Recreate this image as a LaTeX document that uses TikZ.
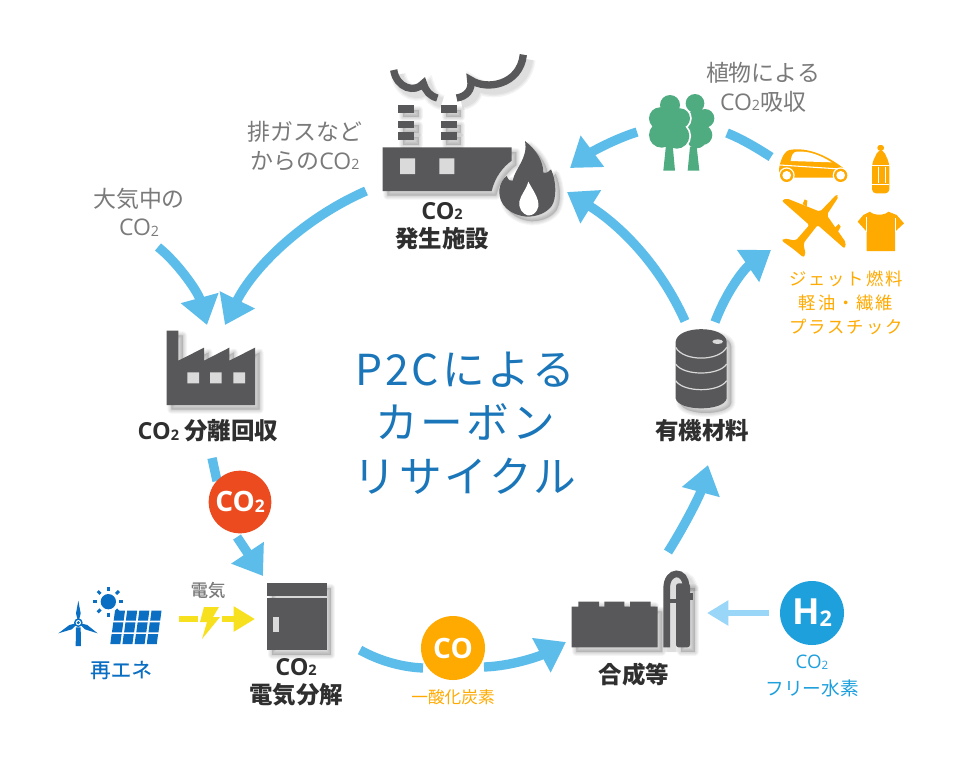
\documentclass[tikz,border=0pt]{standalone}
\usepackage{fontspec}
\usetikzlibrary{arrows.meta}
\setmainfont{Noto Sans CJK JP}
\newfontfamily\lat{Open Sans}
\definecolor{flow}{HTML}{5CBDEB}
\definecolor{lightflow}{HTML}{9AD6F7}
\definecolor{icongrey}{HTML}{58585A}
\definecolor{lblgrey}{HTML}{7A7A7A}
\definecolor{dark}{HTML}{2F2F2F}
\definecolor{orng}{HTML}{FFAA00}
\definecolor{blu}{HTML}{0A6FC2}
\definecolor{title}{HTML}{1A76B9}
\definecolor{treeg}{HTML}{4FAB80}
\definecolor{yel}{HTML}{F7E01E}
\definecolor{winl}{HTML}{DADADA}
\definecolor{redd}{HTML}{EC4B20}
\definecolor{hblue}{HTML}{1EA0DC}
\newcommand\cotwo{{\lat CO}\raisebox{-.02em}{\scalebox{.62}{\lat 2}}}
\newcommand\softsh[1]{\foreach \w in {6,4.5,3,1.5}{\path[fill=black,draw=black,fill opacity=.04,draw opacity=.04,line width=\w pt,line join=round,xshift=3.5pt,yshift=-3.5pt] #1;}}
\newcommand\softln[2]{\foreach \w in {6,4,2}{\path[draw=black,draw opacity=.045,line width=#1+\w pt,xshift=3.5pt,yshift=-3.5pt] #2;}}
\tikzset{
  x=.75pt,y=-.75pt,
  flowline/.style={draw=flow,line width=7pt},
  flowarrow/.style={flowline,-{Triangle[length=21pt,width=28pt]}},
  greylbl/.style={text=lblgrey,align=center,font=\fontsize{17.2}{21.5}\selectfont,inner sep=0pt},
  darklbl/.style={text=dark,align=center,font=\fontsize{17.6}{21}\selectfont\bfseries,inner sep=0pt},
  orglbl/.style={text=orng,align=center,font=\fontsize{13}{18}\selectfont\addfontfeature{LetterSpace=11},inner sep=0pt},
  disc/.style={circle,minimum size=47pt,inner sep=0pt,text=white},
  zoomA/.style={shift={(340,30)},x=.25pt,y=-.25pt},
  zoomB/.style={shift={(630,50)},x=.25pt,y=-.25pt},
  zoomC/.style={shift={(50,570)},x=.25pt,y=-.25pt},
  zoomD/.style={shift={(550,560)},x=.25pt,y=-.25pt},
  zoomE/.style={shift={(130,320)},x=.25pt,y=-.25pt},
  zoomF/.style={shift={(640,320)},x=.25pt,y=-.25pt},
}
\begin{document}
\begin{tikzpicture}
\useasboundingbox (0,0) rectangle (980,772);
\fill[white] (0,0) rectangle (980,772);

% ---------- coordinates of the connectors
\coordinate (airS) at (158,247);
\coordinate (airT) at (207,325);
\coordinate (exS) at (366,191);
\coordinate (exT) at (225,325);
\coordinate (sepS) at (212,458);
\coordinate (sepE) at (217,481);
\coordinate (elS) at (237,537);
\coordinate (elT) at (263,576);
\coordinate (coA) at (360,650);
\coordinate (coB) at (423,668);
\coordinate (coC) at (484,667);
\coordinate (coT) at (566,642);
\coordinate (synS) at (668,552);
\coordinate (synT) at (708,465);
\coordinate (orgS) at (685,321);
\coordinate (orgT) at (567,192);
\coordinate (prodS) at (715,322);
\coordinate (prodT) at (771,250);
\coordinate (fuelS) at (771,157);
\coordinate (fuelE) at (727,133);
\coordinate (treeS) at (637,132);
\coordinate (treeT) at (570,168);
\coordinate (hS) at (769,613);
\coordinate (hT) at (707,613);
\coordinate (yA) at (179,619);
\coordinate (yB) at (198,619);
\coordinate (yC) at (222,619);
\coordinate (yT) at (255,619);

% ---------- connectors
\draw[flowarrow] (airS) .. controls (178,263) and (198,292) .. (airT);
\draw[flowarrow] (exS) .. controls (300,220) and (252,270) .. (exT);
\draw[flowline] (sepS) -- (sepE);
\draw[flowarrow] (elS) -- (elT);
\draw[flowline] (coA) .. controls (378,660) and (400,667) .. (coB);
\draw[flowarrow] (coC) .. controls (512,666) and (540,656) .. (coT);
\draw[flowarrow] (synS) .. controls (685,525) and (700,495) .. (synT);
\draw[flowarrow] (orgS) .. controls (660,265) and (620,225) .. (orgT);
\draw[flowarrow] (prodS) .. controls (727,290) and (745,268) .. (prodT);
\draw[flowline] (fuelS) .. controls (757,148) and (742,139) .. (fuelE);
\draw[flowarrow] (treeS) .. controls (612,140) and (590,153) .. (treeT);
\draw[draw=lightflow,line width=5.2pt,-{Triangle[length=16pt,width=18pt]}] (hS) -- (hT);
\draw[draw=yel,line width=5.2pt] (yA) -- (yB);
\draw[draw=yel,line width=5.2pt,-{Triangle[length=16pt,width=18pt]}] (yC) -- (yT);
\fill[yel] (204,607) -- (219,607) -- (213,617) -- (220,617) -- (202,639) -- (207,622) -- (200,622) -- cycle;

% ---------- CO2 source plant
\begin{scope}[zoomA]
\def\plant{(128,352) -- (515,352) -- (515,392) .. controls (490,410) and (465,440) .. (455,483) -- (128,483) -- cycle}
\softsh{\plant}
\fill[icongrey] \plant;
\fill[winl] (180,385) rectangle (225,432) (298,385) rectangle (343,432);
\foreach \xa in {175,303}{
  \foreach \ya/\yb in {225/248,272/295,307/330}{
    \softsh{(\xa,\ya) rectangle (\xa+47,\yb)}
    \fill[icongrey] (\xa,\ya) rectangle (\xa+47,\yb);
  }
}
\def\smokeL{(161,120) .. controls (170,175) and (225,190) .. (250,160) .. controls (258,185) and (270,198) .. (292,204)}
\def\smokeR{(350,204) .. controls (378,200) and (398,180) .. (392,150) .. controls (440,182) and (540,165) .. (550,74)}
\softln{5.5pt}{\smokeL}
\softln{5.5pt}{\smokeR}
\draw[icongrey,line width=5.5pt] \smokeL;
\draw[icongrey,line width=5.5pt] \smokeR;
\def\flame{(560,560) .. controls (510,555) and (475,525) .. (478,480) .. controls (480,460) and (490,445) .. (500,438) .. controls (505,450) and (510,455) .. (518,452) .. controls (525,415) and (565,385) .. (555,333) .. controls (590,360) and (610,395) .. (610,428) .. controls (620,430) and (628,425) .. (633,418) .. controls (650,455) and (650,505) .. (635,528) .. controls (618,550) and (590,560) .. (560,560) -- cycle}
\softsh{\flame}
\fill[icongrey] \flame;
\fill[white] (565,455) .. controls (578,480) and (598,505) .. (595,530) .. controls (590,550) and (575,558) .. (563,556) .. controls (548,552) and (535,535) .. (538,515) .. controls (542,495) and (558,480) .. (565,455) -- cycle;
\end{scope}

% ---------- capture plant
\begin{scope}[zoomE]
\def\capt{(110,32) -- (145,32) -- (145,122) -- (222,83) -- (222,122) -- (298,83) -- (298,122) -- (375,83) -- (375,255) -- (110,255) -- cycle}
\softsh{\capt}
\fill[icongrey] \capt;
\fill[winl] (172,157) rectangle (207,190) (240,157) rectangle (275,190) (310,157) rectangle (345,190);
\end{scope}

% ---------- electrolyser
\begin{scope}[zoomC]
\softsh{(652,40) rectangle (830,240)}
\fill[icongrey] (652,40) rectangle (830,78);
\fill[icongrey] (652,85) rectangle (830,240);
\fill[winl] (670,140) rectangle (686,187);
% renewable energy
\fill[blu] (85,158) -- (78,130) -- (85,92) -- (92,130) -- cycle;
\fill[blu] (85,158) -- (58,165) -- (25,190) -- (65,178) -- cycle;
\fill[blu] (85,158) -- (112,165) -- (143,190) -- (105,178) -- cycle;
\fill[blu] (78,172) -- (92,172) -- (93,228) -- (77,228) -- cycle;
\fill[blu] (85,158) circle (13);
\fill[white] (85,158) circle (8);
\fill[blu] (85,158) circle (5);
\fill[blu] (175,95) circle (23);
\foreach \a in {0,45,...,315}{
  \draw[blu,line width=2.2pt] (175,95) ++(\a:33) -- ++(\a:12);
}
\foreach \i in {0,...,3}{
  \foreach \j in {0,...,2}{
    \pgfmathsetmacro\xa{195+\i*36.5-\j*5.1}
    \pgfmathsetmacro\ya{122+\j*35}
    \fill[blu] (\xa,\ya) -- (\xa+30,\ya) -- (\xa+26,\ya+30) -- (\xa-4,\ya+30) -- cycle;
  }
}
\end{scope}

% ---------- synthesis plant
\begin{scope}[zoomD]
\def\tank{(65,140) -- (85,140) -- (85,125) -- (147,125) -- (147,140) -- (163,140) -- (163,125) -- (223,125) -- (223,140) -- (240,140) -- (240,125) -- (302,125) -- (302,140) -- (323,140) -- (323,262) -- (65,262) -- cycle}
\def\pipe{(350,262) -- (350,85) .. controls (350,28) and (408,28) .. (408,80)}
\softsh{\tank}
\softsh{(378,70) rectangle (420,262)}
\softln{5pt}{\pipe}
\fill[icongrey] \tank;
\draw[icongrey,line width=5pt] \pipe;
\fill[icongrey] (360,118) rectangle (380,130);
\fill[icongrey,rounded corners=2pt] (378,70) rectangle (420,262);
\fill[icongrey] (418,98) rectangle (428,120);
\end{scope}

% ---------- drum
\begin{scope}[zoomF]
\def\drum{(107,65) .. controls (107,110) and (107,190) .. (107,235) .. controls (115,275) and (252,275) .. (260,235) -- (260,65) .. controls (255,15) and (112,15) .. (107,65) -- cycle}
\softsh{\drum}
\fill[icongrey] \drum;
\draw[white!85!black,line width=.9pt] (107,82) .. controls (130,125) and (237,125) .. (260,82);
\draw[white!85!black,line width=.9pt] (107,132) .. controls (130,168) and (237,168) .. (260,132);
\draw[white!85!black,line width=.9pt] (107,182) .. controls (130,218) and (237,218) .. (260,182);
\fill[winl] (233,65) ellipse[x radius=16,y radius=7];
\end{scope}

% ---------- trees and products
\begin{scope}[zoomB]
\fill[treeg] (195,160) circle (28) (225,205) circle (28) (217,255) circle (30) (195,215) circle (32) (200,265) circle (30);
\fill[treeg] (180,290) -- (200,290) -- (208,362) -- (173,362) -- cycle;
\draw[white,line width=2.6pt] (120,165) circle (30) (90,205) circle (33) (150,205) circle (30) (95,255) circle (38) (140,258) circle (38);
\fill[treeg] (120,165) circle (30) (90,205) circle (33) (150,205) circle (30) (95,255) circle (38) (140,258) circle (38) (120,220) circle (45);
\fill[treeg] (108,285) -- (128,285) -- (135,362) -- (100,362) -- cycle;
% car
\fill[orng] (447,380) -- (447,358) .. controls (450,335) and (460,305) .. (478,300) .. controls (520,292) and (580,305) .. (650,362) -- (653,378) -- (620,383) -- (460,383) -- cycle;
\fill[white] (482,333) .. controls (484,315) and (490,306) .. (500,305) .. controls (535,302) and (570,315) .. (605,337) -- cycle;
\draw[white,line width=.8pt] (450,345) -- (645,358);
\fill[white] (470,376) circle (24) (632,376) circle (24);
\fill[orng] (470,376) circle (20) (632,376) circle (20);
\fill[white] (470,376) circle (13) (632,376) circle (13);
% bottle
\fill[orng,rounded corners=2pt] (742,285) rectangle (762,302);
\fill[orng,rounded corners=3pt] (745,300) -- (760,300) -- (778,340) -- (778,430) -- (726,430) -- (726,340) -- cycle;
\draw[white,line width=.5pt] (726,345) -- (778,345) (726,402) -- (778,402) (745,350) -- (745,400) (765,350) -- (765,400);
% plane
\fill[orng,rounded corners=1.5pt] (620,433) -- (626,440) -- (590,495) -- (648,578) -- (644,596) -- (563,525) -- (520,580) -- (527,614) -- (520,622) -- (490,597) -- (455,572) -- (462,565) -- (497,572) -- (538,525) -- (455,452) -- (470,445) -- (570,485) -- cycle;
\fill[orng] (518,462) -- (524,448) -- (532,452) -- (530,470) -- cycle;
\fill[orng] (610,538) -- (626,522) -- (632,530) -- (622,548) -- cycle;
% shirt
\fill[orng] (720,485) .. controls (730,497) and (765,497) .. (775,485) -- (800,495) -- (822,520) -- (795,545) -- (795,603) -- (710,603) -- (710,545) -- (683,515) -- (700,495) -- cycle;
\draw[white,line width=.4pt] (710,500) -- (710,545) (795,505) -- (795,545);
\end{scope}

% ---------- discs
\node[disc,fill=redd,font=\fontsize{21}{21}\selectfont\lat\bfseries] (discco2) at (240,502) {CO\raisebox{-.05em}{\scalebox{.62}{2}}};
\node[disc,fill=orng,minimum size=48pt,font=\fontsize{21}{21}\selectfont\lat\bfseries] (discco) at (453,648) {CO};
\node[disc,fill=hblue,minimum size=48pt,font=\fontsize{27}{27}\selectfont\lat\bfseries] (dischh) at (812,613) {H\raisebox{-.05em}{\scalebox{.6}{2}}};

% ---------- labels
\node[greylbl] (lplant) at (763,87) {植物による\\\cotwo 吸収};
\node[greylbl] (lexhaust) at (305,146) {排ガスなど\\からの\cotwo};
\node[greylbl] (lair) at (139,212) {大気中の\\\cotwo};
\node[darklbl] (lsource) at (442,226) {\cotwo\\発生施設};
\node[darklbl] (lcapture) at (208,431) {\cotwo\ 分離回収};
\node[darklbl] (lelec) at (296,682) {\cotwo\\電気分解};
\node[darklbl] (lsyn) at (634,675) {合成等};
\node[darklbl] (lorg) at (702,431) {有機材料};
\node[orglbl] (lprod) at (846,303) {ジェット燃料\\軽油・繊維\\プラスチック};
\node[text=title,align=center,inner sep=0pt,font=\fontsize{32}{40}\selectfont\addfontfeature{LetterSpace=7}] (ltitle) at (465,423) {P2Cによる\\カーボン\\リサイクル};
\node[text=blu,font=\fontsize{15.5}{18}\selectfont\addfontfeature{FakeBold=0.3},inner sep=0pt] (lre) at (121,670) {再エネ};
\node[text=lblgrey,font=\fontsize{13}{15}\selectfont\addfontfeature{FakeBold=0.4},inner sep=0pt] (lpower) at (208,590) {電気};
\node[text=orng,font=\fontsize{12.5}{15}\selectfont,inner sep=0pt] (lco) at (453,697) {一酸化炭素};
\node[text=hblue,align=center,font=\fontsize{14}{20}\selectfont,inner sep=0pt] (lh) at (812,676) {\cotwo\\フリー水素};
\end{tikzpicture}
\end{document}
